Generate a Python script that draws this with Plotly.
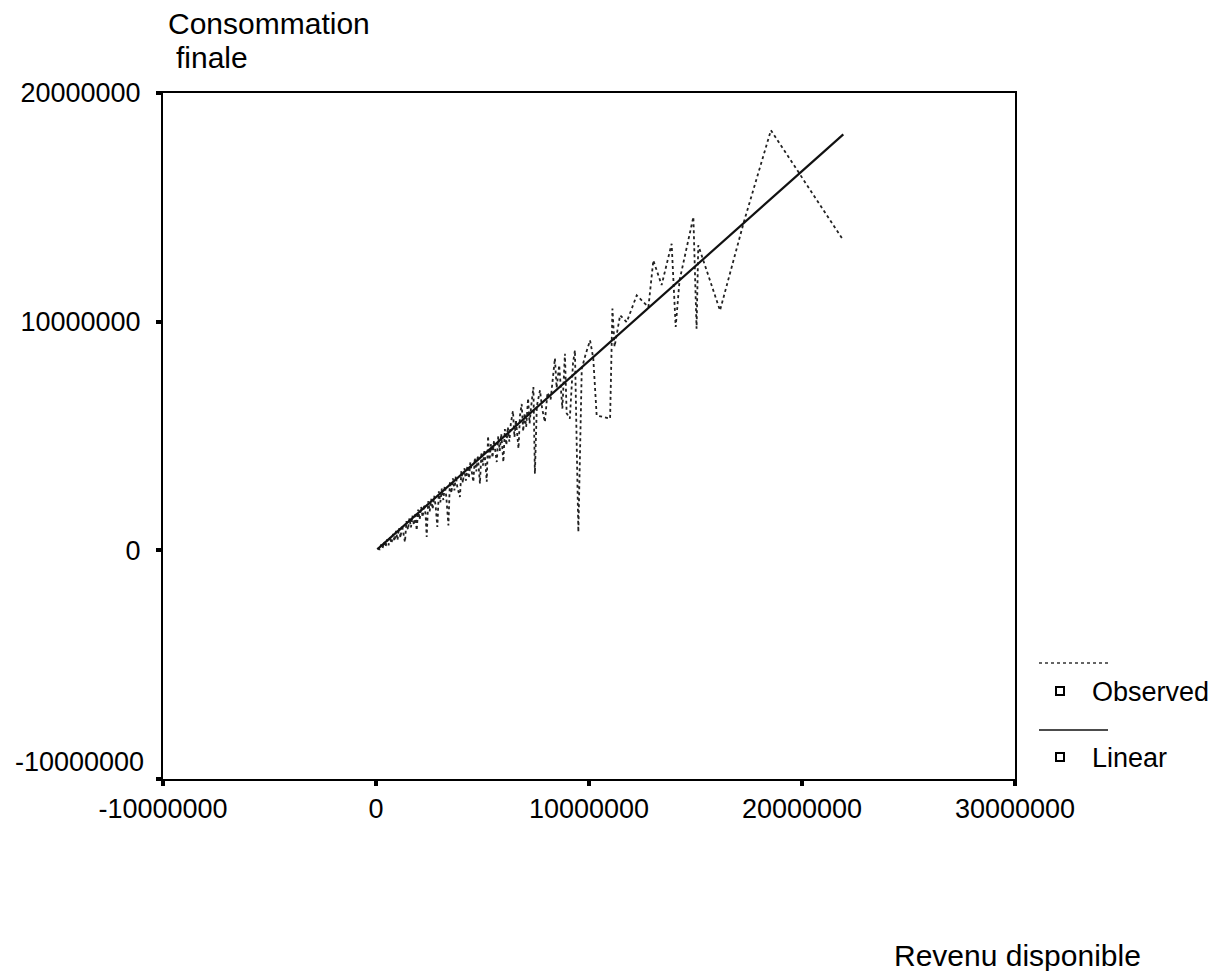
import plotly.graph_objects as go

# ---------------- data ----------------
observed_x = [
    0.10e6, 0.17e6, 0.24e6, 0.31e6, 0.38e6, 0.45e6, 0.52e6, 0.59e6, 0.66e6, 0.73e6,
    0.80e6, 0.87e6, 0.94e6, 1.01e6, 1.08e6, 1.15e6, 1.22e6, 1.29e6, 1.36e6, 1.43e6,
    1.50e6, 1.57e6, 1.64e6, 1.71e6, 1.78e6, 1.85e6, 1.91e6, 1.98e6, 2.05e6, 2.12e6,
    2.19e6, 2.26e6, 2.33e6, 2.38e6, 2.45e6, 2.52e6, 2.59e6, 2.66e6, 2.73e6, 2.80e6,
    2.88e6, 2.95e6, 3.02e6, 3.09e6, 3.16e6, 3.23e6, 3.30e6, 3.40e6, 3.47e6, 3.54e6,
    3.61e6, 3.68e6, 3.75e6, 3.82e6, 3.94e6, 4.01e6, 4.08e6, 4.15e6, 4.22e6, 4.29e6,
    4.36e6, 4.43e6, 4.50e6, 4.57e6, 4.64e6, 4.71e6, 4.78e6, 4.88e6, 4.95e6, 5.02e6,
    5.09e6, 5.20e6, 5.26e6, 5.33e6, 5.40e6, 5.47e6, 5.54e6, 5.61e6, 5.67e6, 5.74e6,
    5.81e6, 5.88e6, 5.98e6, 6.05e6, 6.12e6, 6.19e6, 6.26e6, 6.33e6, 6.43e6, 6.50e6,
    6.57e6, 6.69e6, 6.76e6, 6.84e6, 6.91e6, 6.98e6, 7.05e6, 7.14e6, 7.21e6, 7.28e6,
    7.39e6, 7.46e6, 7.55e6, 7.70e6, 7.80e6,
    7.93e6, 8.05e6, 8.20e6, 8.40e6, 8.48e6, 8.60e6, 8.75e6, 8.87e6, 8.95e6, 9.10e6,
    9.25e6, 9.34e6, 9.50e6, 9.66e6, 9.85e6, 10.05e6, 10.20e6, 10.36e6, 10.99e6, 11.10e6,
    11.20e6, 11.46e6, 11.77e6, 12.24e6, 12.79e6, 13.02e6, 13.41e6, 13.88e6, 14.07e6, 14.25e6,
    14.90e6, 15.05e6, 15.13e6, 16.15e6, 17.25e6, 18.54e6, 21.94e6,
]
observed_y = [
    0.12e6, 0.02e6, 0.25e6, 0.10e6, 0.36e6, 0.15e6, 0.48e6, 0.22e6, 0.60e6, 0.30e6,
    0.72e6, 0.40e6, 0.85e6, 0.45e6, 0.98e6, 0.55e6, 1.10e6, 0.70e6, 0.36e6, 1.28e6,
    0.90e6, 1.40e6, 1.00e6, 1.52e6, 1.10e6, 1.65e6, 0.87e6, 1.78e6, 1.35e6, 1.90e6,
    1.45e6, 2.00e6, 1.55e6, 0.58e6, 2.15e6, 1.70e6, 2.25e6, 1.80e6, 2.38e6, 1.95e6,
    1.02e6, 2.58e6, 2.10e6, 2.70e6, 2.20e6, 2.82e6, 2.35e6, 1.09e6, 3.02e6, 2.50e6,
    3.15e6, 2.62e6, 3.25e6, 2.75e6, 2.33e6, 3.48e6, 2.95e6, 3.60e6, 3.05e6, 3.70e6,
    3.15e6, 3.85e6, 3.30e6, 2.99e6, 4.05e6, 3.45e6, 4.15e6, 2.92e6, 4.30e6, 3.70e6,
    4.40e6, 3.00e6, 5.00e6, 3.95e6, 4.65e6, 4.05e6, 4.80e6, 4.15e6, 3.86e6, 5.00e6,
    4.35e6, 5.10e6, 3.86e6, 5.30e6, 4.60e6, 5.40e6, 4.75e6, 5.55e6, 6.10e6, 4.95e6,
    5.70e6, 4.45e6, 5.90e6, 6.40e6, 5.20e6, 6.00e6, 5.40e6, 6.65e6, 5.55e6, 6.25e6,
    7.14e6, 3.35e6, 6.30e6, 7.00e6, 6.20e6,
    5.61e6, 6.90e6, 6.60e6, 8.40e6, 7.10e6, 8.10e6, 6.20e6, 8.60e6, 6.00e6, 5.76e6,
    8.20e6, 8.75e6, 0.80e6, 7.94e6, 8.60e6, 9.18e6, 8.40e6, 5.90e6, 5.76e6, 10.57e6,
    8.90e6, 10.28e6, 9.98e6, 11.15e6, 10.64e6, 12.68e6, 11.60e6, 13.41e6, 9.77e6, 11.80e6,
    14.58e6, 9.69e6, 13.34e6, 10.49e6, 14.29e6, 18.37e6, 13.56e6,
]

linear_x = [0.06e6, 21.94e6]
linear_y = [0.04e6, 18.19e6]

x_tick_vals = [-10000000, 0, 10000000, 20000000, 30000000]
x_tick_text = ["-10000000", "0", "10000000", "20000000", "30000000"]
y_tick_vals = [-10000000, 0, 10000000, 20000000]
y_tick_text = ["-10000000", "0", "10000000", "20000000"]

y_title_lines = ["Consommation", "finale"]
x_title = "Revenu disponible"
legend_labels = ["Observed", "Linear"]

# ---------------- figure ----------------
FONT = "Liberation Sans, Arial, sans-serif"
FS_TICK = 27
FS_TITLE = 30
FS_LEG = 27

fig = go.Figure()
fig.add_trace(go.Scatter(
    x=observed_x, y=observed_y, mode="lines",
    line=dict(color="#222222", width=1.8, dash="dot"),
    showlegend=False, hoverinfo="skip",
))
fig.add_trace(go.Scatter(
    x=linear_x, y=linear_y, mode="lines",
    line=dict(color="#111111", width=2.2),
    showlegend=False, hoverinfo="skip",
))

L, R, T, B = 163, 213, 93, 192
W, H = 1228, 971
PW, PH = W - L - R, H - T - B


def px(xp):
    return (xp - L) / PW


def py(yp):
    return (H - B - yp) / PH


axis_common = dict(
    showgrid=False, zeroline=False, showline=True, mirror=True,
    linecolor="black", linewidth=2, ticks="outside", ticklen=5,
    tickwidth=4, tickcolor="black",
    tickfont=dict(family=FONT, size=FS_TICK, color="black"),
)

# the lowest y label sits a little above its tick in the reference, drawn below
y_tick_text_axis = [""] + y_tick_text[1:]

fig.update_xaxes(range=[-10000000, 30000000], tickvals=x_tick_vals,
                 ticktext=x_tick_text, ticklabelstandoff=0, **axis_common)
fig.update_yaxes(range=[-10000000, 20000000], tickvals=y_tick_vals,
                 ticktext=y_tick_text_axis, ticklabelstandoff=10, **axis_common)

annotations = [
    dict(text=y_title_lines[0], x=px(166), y=py(23), xanchor="left", yanchor="middle",
         font=dict(family=FONT, size=FS_TITLE, color="black")),
    dict(text=y_title_lines[1], x=px(174), y=py(57), xanchor="left", yanchor="middle",
         font=dict(family=FONT, size=FS_TITLE, color="black")),
    dict(text=x_title, x=px(892), y=py(955), xanchor="left", yanchor="middle",
         font=dict(family=FONT, size=FS_TITLE, color="black")),
    dict(text=legend_labels[0], x=px(1090), y=py(692), xanchor="left", yanchor="middle",
         font=dict(family=FONT, size=FS_LEG, color="black")),
    dict(text=legend_labels[1], x=px(1090), y=py(758), xanchor="left", yanchor="middle",
         font=dict(family=FONT, size=FS_LEG, color="black")),
    dict(text=y_tick_text[0], x=px(146), y=py(762), xanchor="right", yanchor="middle",
         font=dict(family=FONT, size=FS_TICK, color="black")),
]
for a in annotations:
    a.update(xref="paper", yref="paper", showarrow=False)

shapes = [
    dict(type="line", xref="paper", yref="paper", x0=px(1039), x1=px(1108),
         y0=py(663), y1=py(663), line=dict(color="#333333", width=1.6, dash="dot")),
    dict(type="line", xref="paper", yref="paper", x0=px(1039), x1=px(1108),
         y0=py(730), y1=py(730), line=dict(color="#111111", width=1.6)),
]
for sy in (691, 757):
    shapes.append(dict(type="rect", xref="paper", yref="paper",
                       xsizemode="pixel", ysizemode="pixel",
                       xanchor=px(1060), yanchor=py(sy),
                       x0=-4, x1=4, y0=-4, y1=4,
                       line=dict(color="black", width=2), fillcolor="white"))

fig.update_layout(
    width=W, height=H, autosize=False,
    margin=dict(l=L, r=R, t=T, b=B, pad=0),
    paper_bgcolor="white", plot_bgcolor="white",
    font=dict(family=FONT, size=FS_TICK, color="black"),
    annotations=annotations, shapes=shapes, showlegend=False,
)

fig.write_html("out.html")
